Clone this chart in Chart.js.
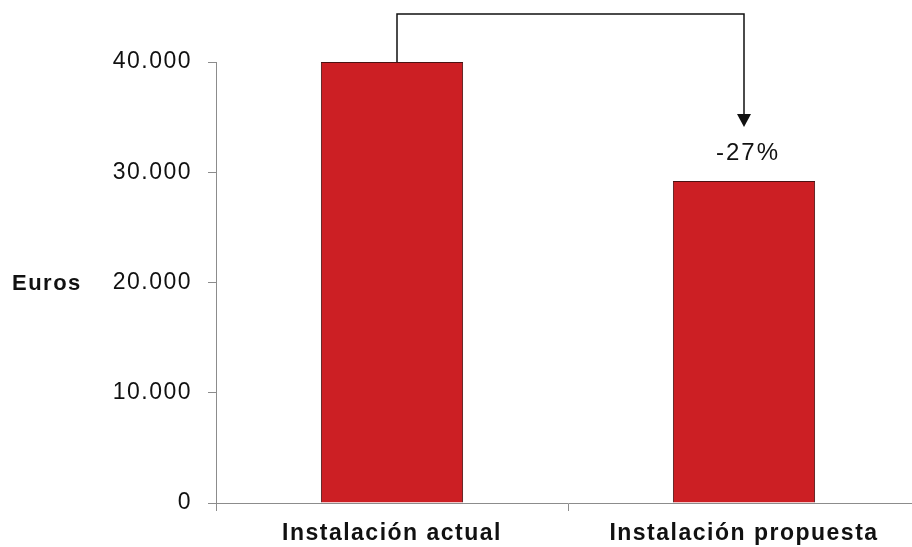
<!DOCTYPE html>
<html>
<head>
<meta charset="utf-8">
<script src="https://cdn.jsdelivr.net/npm/chart.js@4.4.1/dist/chart.umd.min.js"></script>
<style>
  html, body { margin: 0; padding: 0; background: #fff; overflow: hidden; }
  #wrap { width: 920px; height: 547px; }
</style>
</head>
<body>
<div id="wrap"><canvas id="costChart" width="920" height="547"></canvas></div>
<script>
// categorías y valores (euros)
var categories = ["Instalación actual", "Instalación propuesta"];
var costs = [40000, 29200];
var yTicks = [0, 10000, 20000, 30000, 40000];

var axisGrey = "#8c8c8c";
var textColor = "#111";

function fmtEuros(v) {
  return String(v).replace(/\B(?=(\d{3})+(?!\d))/g, ".");
}

// flecha de ahorro entre las dos barras + texto "Euros"
var savingsArrow = {
  id: "savingsArrow",
  beforeDraw: function (chart) {
    chart.ctx.letterSpacing = "1.5px";
  },
  afterDatasetsDraw: function (chart) {
    var ctx = chart.ctx;
    var x = chart.scales.x, y = chart.scales.y;
    var x0 = x.getPixelForValue(0) + 5;
    var x1 = x.getPixelForValue(1);
    var y0 = y.getPixelForValue(costs[0]);
    var y1 = y.getPixelForValue(costs[1]);
    var topY = chart.chartArea.top - 48;
    var tipY = y1 - 54;

    ctx.save();
    ctx.strokeStyle = "#111";
    ctx.lineWidth = 1.5;
    ctx.beginPath();
    ctx.moveTo(x0, y0);
    ctx.lineTo(x0, topY);
    ctx.lineTo(x1, topY);
    ctx.lineTo(x1, tipY - 12);
    ctx.stroke();
    ctx.fillStyle = "#111";
    ctx.beginPath();
    ctx.moveTo(x1 - 7, tipY - 13);
    ctx.lineTo(x1 + 7, tipY - 13);
    ctx.lineTo(x1, tipY);
    ctx.closePath();
    ctx.fill();

    var pct = Math.round((costs[1] / costs[0] - 1) * 100);
    ctx.font = "24px 'Liberation Sans', Arial, sans-serif";
    ctx.letterSpacing = "2px";
    ctx.textAlign = "center";
    ctx.textBaseline = "middle";
    ctx.fillText(pct + "%", x1 + 4, y1 - 28);

    ctx.font = "bold 22px 'Liberation Sans', Arial, sans-serif";
    ctx.letterSpacing = "1.5px";
    ctx.textAlign = "left";
    ctx.fillText("Euros", 12, y.getPixelForValue(20000) + 1);
    ctx.restore();
  }
};

document.addEventListener("DOMContentLoaded", function () {
  Chart.defaults.font.family = "'Liberation Sans', Arial, sans-serif";
  Chart.defaults.color = textColor;

  var ctx = document.getElementById("costChart").getContext("2d");
  new Chart(ctx, {
    type: "bar",
    data: {
      labels: categories,
      datasets: [{
        data: costs,
        backgroundColor: "#cc1f24",
        borderColor: "#4a1212",
        borderWidth: 1,
        barPercentage: 0.404,
        categoryPercentage: 1
      }]
    },
    options: {
      responsive: false,
      devicePixelRatio: 1,
      animation: false,
      layout: { padding: { top: 62, left: 0, right: 0, bottom: 0 } },
      plugins: { legend: { display: false }, tooltip: { enabled: false } },
      scales: {
        x: {
          grid: { offset: true, drawOnChartArea: false, drawTicks: true, tickLength: 8, color: axisGrey },
          border: { color: axisGrey, width: 1 },
          ticks: { font: { size: 23, weight: "bold" }, padding: 9, color: textColor, maxRotation: 0 },
          afterFit: function (s) { s.height = 44; }
        },
        y: {
          min: 0,
          max: 40000,
          afterBuildTicks: function (s) { s.ticks = yTicks.map(function (v) { return { value: v }; }); },
          grid: { drawOnChartArea: false, drawTicks: true, tickLength: 8, color: axisGrey },
          border: { color: axisGrey, width: 1 },
          ticks: { font: { size: 23 }, padding: 16, color: textColor, callback: function (v) { return fmtEuros(v); } },
          afterFit: function (s) { s.width = 216; }
        }
      }
    },
    plugins: [savingsArrow]
  });
});
</script>
</body>
</html>
